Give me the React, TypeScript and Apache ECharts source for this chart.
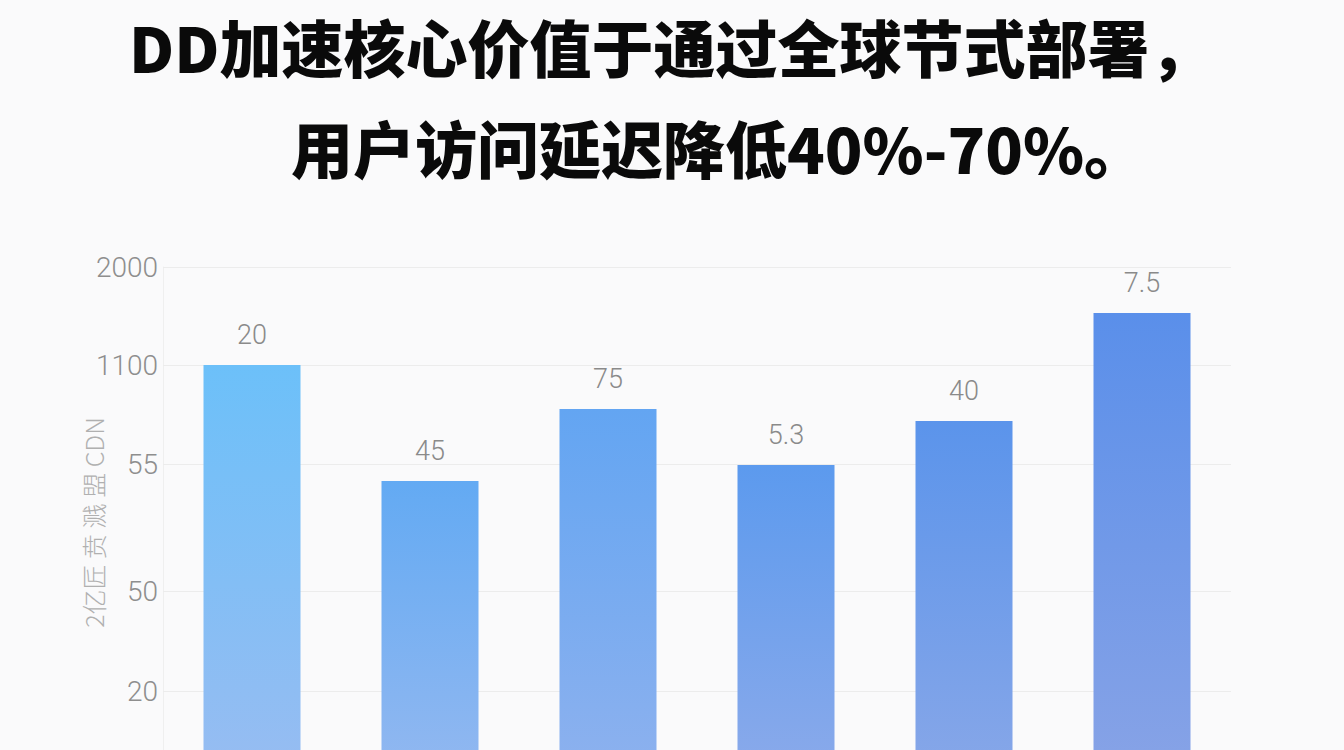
import React, { useEffect, useRef } from "react";
import * as echarts from "echarts";

const titleLines = ["DD加速核心价值于通过全球节式部署，", "用户访问延迟降低40%-70%。"];
const categories = ["节点1", "节点2", "节点3", "节点4", "节点5", "节点6"];
// bar heights on the chart's own (unlabelled) scale
const barValues = [435, 319, 391, 335, 379, 487];
// texts printed above the bars
const barLabels = ["20", "45", "75", "5.3", "40", "7.5"];
// positions of the grid lines on the same scale, and their texts
const tickPositions = [533, 435, 336, 209, 109];
const tickLabels = ["2000", "1100", "55", "50", "20"];
const axisName = "2亿匠 贲 溅 盟 CDN";
const scaleMax = 533;

const barTop = ["#6cc0f9", "#63aaf3", "#63a5f2", "#5c9aee", "#5b94eb", "#5a8fea"];
const barBottom = ["#9abcf1", "#96b9f0", "#90b2ee", "#8eabea", "#8aa8e8", "#8aa4e6"];

export default function App() {
  const ref = useRef<HTMLDivElement>(null);
  useEffect(() => {
    if (!ref.current) return;
    const chart = echarts.init(ref.current, null, { renderer: "svg" });
    const titleStyle = {
      fontFamily: "Noto Sans CJK SC",
      fontWeight: 900,
      fontSize: 62,
      color: "#0a0a0a",
    };
    chart.setOption({
      animation: false,
      backgroundColor: "#fafafb",
      title: [
        { text: titleLines[0], left: 124, top: 10, textStyle: titleStyle },
        { text: titleLines[1], left: 286, top: 111, textStyle: titleStyle },
      ],
      grid: { left: 163, right: 113, top: 267, bottom: 0, containLabel: false },
      xAxis: {
        type: "category",
        data: categories,
        axisLine: { show: false },
        axisTick: { show: false },
        axisLabel: { show: false },
      },
      yAxis: {
        type: "value",
        min: 0,
        max: scaleMax,
        name: axisName,
        nameLocation: "middle",
        nameGap: 58,
        nameTextStyle: {
          fontFamily: "Noto Sans CJK SC",
          fontSize: 25,
          color: "#b0b0b0",
          fontWeight: 300,
          padding: [0, 0, 0, 22],
        },
        axisLine: { show: true, lineStyle: { color: "#efefef", width: 1 } },
        axisTick: { show: false },
        axisLabel: { show: false },
        splitLine: { show: false },
      },
      series: [
        {
          type: "bar",
          data: barValues.map((v, i) => ({
            value: v,
            itemStyle: {
              color: new echarts.graphic.LinearGradient(0, 0, 0, 1, [
                { offset: 0, color: barTop[i] },
                { offset: 1, color: barBottom[i] },
              ]),
            },
          })),
          barWidth: 97,
          z: 3,
          label: {
            show: true,
            position: "top",
            distance: 17,
            fontFamily: "Roboto",
            fontWeight: 300,
            fontSize: 27,
            color: "#8a8a8a",
            formatter: (p: any) => barLabels[p.dataIndex],
          },
          markLine: {
            silent: true,
            symbol: ["none", "none"],
            z: 1,
            lineStyle: { color: "#ececec", width: 1.2, type: "solid" },
            label: {
              show: true,
              position: "start",
              distance: 5,
              fontFamily: "Roboto",
              fontWeight: 300,
              fontSize: 28,
              color: "#8e8e8e",
              formatter: (p: any) => tickLabels[tickPositions.indexOf(p.value)],
            },
            data: tickPositions.map((v) => ({ yAxis: v })),
          },
        },
      ],
    });
    return () => chart.dispose();
  }, []);
  return (
    <div
      ref={ref}
      style={{ position: "fixed", left: 0, top: 0, width: 1344, height: 800 }}
    />
  );
}
